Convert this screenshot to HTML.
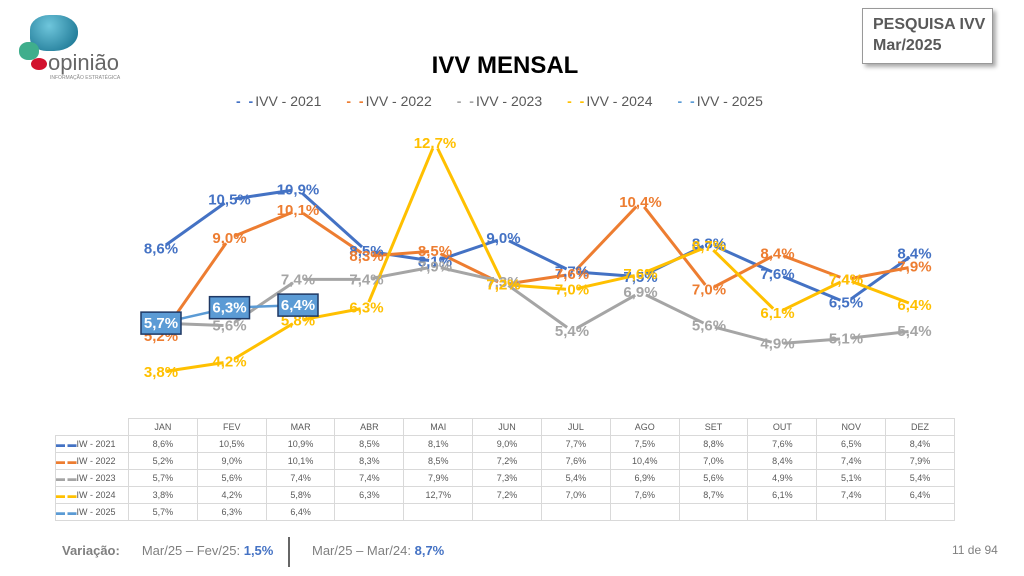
<!DOCTYPE html>
<html><head><meta charset="utf-8">
<style>
body{margin:0;width:1024px;height:576px;background:#fff;font-family:"Liberation Sans",sans-serif;overflow:hidden;position:relative}
.abs{position:absolute}
table{border-collapse:collapse;font-size:9px;color:#595959;table-layout:fixed}
td{border:1px solid #d9d9d9;text-align:center;height:16px;padding:0;overflow:hidden;white-space:nowrap}
</style></head><body>
<div class="abs" style="left:15px;top:12px;width:110px;height:70px">
<div class="abs" style="left:15px;top:3px;width:48px;height:36px;border-radius:40% 45% 50% 35%;background:radial-gradient(circle at 40% 30%,#6fc6dc,#0f6a88)"></div>
<div class="abs" style="left:4px;top:30px;width:20px;height:18px;border-radius:45%;background:#3fae8c"></div>
<div class="abs" style="left:16px;top:46px;width:16px;height:12px;border-radius:50%;background:#d2122e"></div>
<div class="abs" style="left:33px;top:38px;font-size:22px;color:#666">opinião</div>
<div class="abs" style="left:35px;top:63px;font-size:5px;color:#888">INFORMAÇÃO ESTRATÉGICA</div>
</div>
<div class="abs" style="left:862px;top:8px;width:131px;height:56px;border:1px solid #999;box-shadow:3px 3px 4px #aaa;font-weight:bold;color:#595959;font-size:16px;line-height:21px;padding:5px 0 0 10px;box-sizing:border-box;white-space:nowrap">PESQUISA IVV<br>Mar/2025</div>
<div class="abs" style="left:0;width:1010px;top:52px;text-align:center;font-size:24px;font-weight:bold;color:#000">IVV MENSAL</div>
<div class="abs" style="left:236px;top:93px;font-size:14px;color:#595959;white-space:nowrap" id="legend"></div>
<svg class="abs" style="left:0;top:0" width="1024" height="420" id="chart"></svg>
<table class="abs" style="left:55px;top:418px;width:900px" id="tbl"></table>
<div class="abs" style="left:62px;top:543px;font-size:13px;color:#7f7f7f;white-space:nowrap"><b>Variação:</b><span style="margin-left:22px">Mar/25 – Fev/25: <b style="color:#4472c4">1,5%</b></span></div>
<div class="abs" style="left:288px;top:537px;width:2px;height:30px;background:#666"></div>
<div class="abs" style="left:312px;top:543px;font-size:13px;color:#7f7f7f">Mar/25 – Mar/24: <b style="color:#4472c4">8,7%</b></div>
<div class="abs" style="left:952px;top:543px;font-size:12px;color:#7f7f7f">11 de 94</div>
<script>
const months=["JAN","FEV","MAR","ABR","MAI","JUN","JUL","AGO","SET","OUT","NOV","DEZ"];
const seriesNames=["IVV - 2021","IVV - 2022","IVV - 2023","IVV - 2024","IVV - 2025"];
const colors=["#4472c4","#ed7d31","#a5a5a5","#ffc000","#5b9bd5"];
const v2021=[8.6,10.5,10.9,8.5,8.1,9.0,7.7,7.5,8.8,7.6,6.5,8.4];
const v2022=[5.2,9.0,10.1,8.3,8.5,7.2,7.6,10.4,7.0,8.4,7.4,7.9];
const v2023=[5.7,5.6,7.4,7.4,7.9,7.3,5.4,6.9,5.6,4.9,5.1,5.4];
const v2024=[3.8,4.2,5.8,6.3,12.7,7.2,7.0,7.6,8.7,6.1,7.4,6.4];
const v2025=[5.7,6.3,6.4];
const all=[v2021,v2022,v2023,v2024,v2025];
const X=i=>161+i*68.5, Y=v=>372-(v-3.8)*25.73;
const fmt=v=>v.toFixed(1).replace('.',',')+'%';
const svg=document.getElementById('chart'),NS="http://www.w3.org/2000/svg";
all.forEach((s,k)=>{
 for(let i=0;i<s.length-1;i++){
  const x1=X(i),y1=Y(s[i]),x2=X(i+1),y2=Y(s[i+1]);
  const d=Math.hypot(x2-x1,y2-y1),g=Math.min(6,d/4);
  const ux=(x2-x1)/d,uy=(y2-y1)/d;
  const l=document.createElementNS(NS,'line');
  
  
  l.setAttribute('x1',x1+ux*g);l.setAttribute('y1',y1+uy*g);l.setAttribute('x2',x2-ux*g);l.setAttribute('y2',y2-uy*g);
  l.setAttribute('stroke',colors[k]);l.setAttribute('stroke-width',k==4?2.5:3);
  svg.appendChild(l);
 }
});
all.forEach((s,k)=>{
 s.forEach((v,i)=>{
  if(k==4){
   const r=document.createElementNS(NS,'rect');
   
   
   r.setAttribute('x',X(i)-20);r.setAttribute('y',Y(v)-11);r.setAttribute('width',40);r.setAttribute('height',22);
   r.setAttribute('fill','#5b9bd5');r.setAttribute('stroke','#1f3864');r.setAttribute('stroke-width',1.5);
   svg.appendChild(r);
  }
  const t=document.createElementNS(NS,'text');
  
  
  t.setAttribute('x',X(i));t.setAttribute('y',Y(v)+5);t.setAttribute('text-anchor','middle');
  t.setAttribute('font-size',15);t.setAttribute('font-weight','bold');
  t.setAttribute('fill',k==4?'#fff':colors[k]);
  t.textContent=fmt(v);svg.appendChild(t);
 });
});
const lg=document.getElementById('legend');
seriesNames.forEach((n,k)=>{
 const sp=document.createElement('span');
 
 
 sp.style.marginRight='25px';
 sp.innerHTML='<span style="color:'+colors[k]+';font-weight:bold;letter-spacing:2px">- -</span>'+n;
 lg.appendChild(sp);
});
const tb=document.getElementById('tbl');
let h='<colgroup><col style="width:73px">'+months.map(()=>'<col>').join('')+'</colgroup>';
h+='<tr><td style="border:none"></td>'+months.map(m=>'<td>'+m+'</td>').join('')+'</tr>';
all.forEach((s,k)=>{
 h+='<tr><td style="text-align:left"><span style="color:'+colors[k]+';font-weight:bold">▬ ▬</span>'+seriesNames[k].replace('IVV','IW')+'</td>'+months.map((m,i)=>'<td>'+(s[i]!==undefined?fmt(s[i]):'')+'</td>').join('')+'</tr>';
});
tb.innerHTML=h;
</script>
</body></html>
